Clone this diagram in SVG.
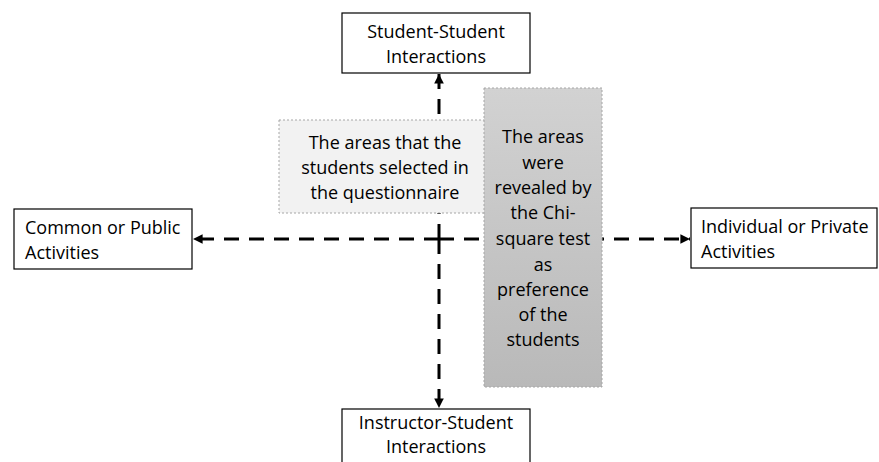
<svg xmlns="http://www.w3.org/2000/svg" width="879" height="462" viewBox="0 0 879 462">
<style>
  text { font-family: "Open Sans", "Noto Sans", sans-serif; font-size: 18px; fill: #000; }
  .c { text-anchor: middle; }
  .box { fill: #fff; stroke: #000; stroke-width: 1.2; }
  .conn { stroke: #000; stroke-width: 3; stroke-dasharray: 15 10; fill: none; }
  .note { stroke: #a6a6a6; stroke-width: 1; stroke-dasharray: 2 2; }
</style>
<defs>
  <marker id="ah" viewBox="0 0 10 10" refX="10" refY="5" markerWidth="3.2" markerHeight="3.2" orient="auto" markerUnits="strokeWidth">
    <path d="M0,0 L10,5 L0,10 z" fill="#000"/>
  </marker>
  <linearGradient id="g" x1="0" y1="0" x2="0" y2="1">
    <stop offset="0" stop-color="#d2d2d2"/>
    <stop offset="1" stop-color="#b9b9b9"/>
  </linearGradient>
</defs>
<g id="connectors">
  <line class="conn" x1="439" y1="239" x2="439" y2="74" marker-end="url(#ah)"/>
  <line class="conn" x1="439" y1="239" x2="439" y2="408" marker-end="url(#ah)"/>
  <line class="conn" x1="439" y1="239" x2="193" y2="239" marker-end="url(#ah)"/>
  <line class="conn" x1="439" y1="239" x2="690" y2="239" marker-end="url(#ah)"/>
</g>
<g id="top">
  <rect class="box" x="342" y="13" width="188" height="60"/>
  <text class="c" x="436" y="38">Student-Student</text>
  <text class="c" x="436" y="63">Interactions</text>
</g>
<g id="left">
  <rect class="box" x="14" y="209" width="178" height="60"/>
  <text x="25" y="234">Common or Public</text>
  <text x="25" y="259">Activities</text>
</g>
<g id="right">
  <rect class="box" x="691" y="208" width="186" height="60"/>
  <text x="701" y="233">Individual or Private</text>
  <text x="701" y="258">Activities</text>
</g>
<g id="bottom">
  <rect class="box" x="342" y="409" width="188" height="60"/>
  <text class="c" x="436" y="429">Instructor-Student</text>
  <text class="c" x="436" y="453">Interactions</text>
</g>
<g id="selected">
  <rect class="note" x="279" y="120" width="206" height="93" fill="#f2f2f2"/>
  <text class="c" x="385" y="149">The areas that the</text>
  <text class="c" x="385" y="174">students selected in</text>
  <text class="c" x="385" y="199">the questionnaire</text>
</g>
<g id="revealed">
  <rect class="note" x="484" y="88" width="118" height="299" fill="url(#g)"/>
  <text class="c" x="543" y="143">The areas</text>
  <text class="c" x="543" y="169">were</text>
  <text class="c" x="543" y="194">revealed by</text>
  <text class="c" x="543" y="219">the Chi-</text>
  <text class="c" x="543" y="245">square test</text>
  <text class="c" x="543" y="271">as</text>
  <text class="c" x="543" y="296">preference</text>
  <text class="c" x="543" y="321">of the</text>
  <text class="c" x="543" y="346">students</text>
</g>
</svg>
